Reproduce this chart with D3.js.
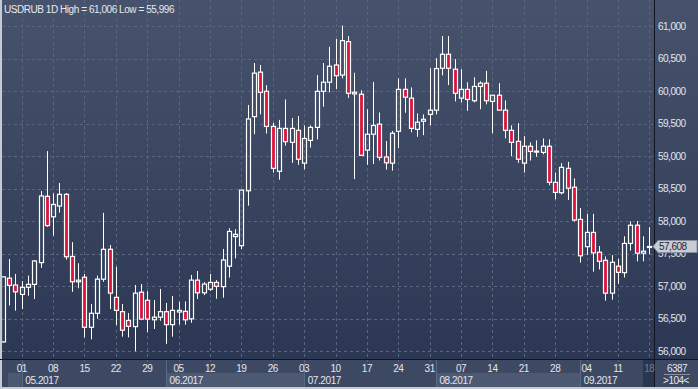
<!DOCTYPE html>
<html>
<head>
<meta charset="utf-8">
<title>USDRUB 1D</title>
<script src="https://d3js.org/d3.v7.min.js"></script>
<style>
  body { margin: 0; background: #c6cad1; }
  svg { display: block; }
  text { font-family: "Liberation Sans", Arial, sans-serif; }
</style>
</head>
<body>
<script>
// daily bars, 26 Apr 2017 .. 18 Sep 2017 (weekdays)
var open = [56140, 57120, 57015, 56870, 56980, 57025, 57360, 58380, 58065, 58230,
            58410, 57455, 57065, 57135, 56365, 56580, 57105, 57565, 56825, 56605,
            56470, 56375, 56905, 56780, 56480, 56520, 56605, 56405, 56600, 56610,
            56495, 57090, 56895, 56950, 57055, 56990, 57305, 57795, 57620, 58465,
            59605, 60290, 59995, 59455, 58765, 59425, 59210, 59395, 58890, 59240,
            59440, 59995, 60135, 60400, 60245, 60760, 59980, 59950, 59090, 59335,
            59490, 58985, 58890, 59380, 60025, 59890, 59410, 59535, 59640, 59705,
            60350, 60565, 60335, 59890, 60025, 59850, 60070, 60120, 59840, 59935,
            59705, 59395, 59225, 58890, 59150, 59060, 59055, 59150, 58595, 58435,
            58810, 58520, 58025, 57605, 57825, 57520, 57395, 56890, 57305, 57205,
            57655, 57935, 57505, 57600];
var high = [57150, 57415, 57185, 57075, 57160, 57400, 58460, 59075, 58425, 58585,
            58430, 57675, 57350, 57185, 56725, 57160, 58125, 57630, 57295, 56725,
            56585, 57015, 57030, 56920, 56785, 56955, 56740, 56845, 56755, 56765,
            57170, 57230, 57060, 57185, 57090, 57570, 57890, 57875, 58480, 59785,
            60430, 60400, 60090, 59510, 59555, 59870, 59585, 59615, 59470, 59470,
            60245, 60430, 60680, 60800, 61006, 60845, 60280, 60010, 59720, 60140,
            59670, 59230, 59385, 60195, 60195, 60055, 59655, 59640, 60350, 60505,
            60845, 60845, 60490, 60335, 60135, 60210, 60150, 60310, 59935, 60120,
            59855, 59470, 59505, 59305, 59210, 59240, 59270, 59255, 58745, 58890,
            58910, 58655, 58200, 58110, 58110, 57615, 57455, 57475, 57420, 57765,
            57995, 58000, 57765, 57905];
var low  = [56130, 56700, 56620, 56645, 56850, 56800, 57280, 57910, 57775, 58130,
            57405, 56910, 56965, 56210, 56180, 56495, 57065, 56645, 56400, 56220,
            56210, 55996, 56475, 56290, 56340, 56465, 56110, 56220, 56405, 56405,
            56435, 56800, 56860, 56925, 56805, 56820, 57130, 57425, 57565, 58235,
            59335, 59640, 59345, 58745, 58635, 59160, 58895, 58865, 58795, 59130,
            59255, 59760, 59980, 60030, 60195, 59895, 58645, 59000, 58865, 58875,
            58930, 58790, 58775, 59120, 59665, 59365, 59295, 59320, 59470, 59640,
            60240, 60090, 59840, 59825, 59695, 59825, 59720, 59795, 59350, 59705,
            59270, 58995, 58895, 58745, 58930, 58990, 59025, 58550, 58335, 58410,
            58325, 57990, 57360, 57475, 57220, 57255, 56775, 56790, 57035, 57130,
            57545, 57380, 57380, 57490];
var close = [57140, 57010, 56910, 56980, 57025, 57385, 58385, 57930, 58255, 58410,
             57450, 57065, 57090, 56365, 56580, 57105, 57565, 56890, 56625, 56320,
             56380, 56890, 56490, 56490, 56520, 56605, 56405, 56625, 56625, 56480,
             57090, 56895, 57030, 57055, 56995, 57400, 57840, 57760, 58475, 59570,
             60275, 59980, 59455, 58810, 59425, 59220, 59425, 58950, 59270, 59440,
             59995, 60135, 60380, 60235, 60775, 59965, 59955, 59010, 59335, 59470,
             58980, 58895, 59350, 60025, 59905, 59425, 59520, 59565, 59705, 60345,
             60565, 60350, 59965, 60025, 59870, 60070, 60120, 59850, 59935, 59705,
             59395, 59210, 58950, 59150, 59070, 59075, 59150, 58595, 58440, 58825,
             58505, 58015, 57465, 57825, 57510, 57380, 56890, 57365, 57210, 57655,
             57935, 57505, 57535, 57608];

var yTicks = [56000, 56500, 57000, 57500, 58000, 58500, 59000, 59500, 60000, 60500, 61000];
var barsInfo = ["6387", ">104<"];

var dates = d3.timeDay.range(new Date(2017, 3, 26), new Date(2017, 8, 19))
  .filter(function(d) { return d.getDay() !== 0 && d.getDay() !== 6; });

var data = dates.map(function(d, i) {
  return {i: i, date: d, o: open[i], h: high[i], l: low[i], c: close[i]};
});

var svgWidth = 698, svgHeight = 389,
    plot = {left: 2, right: 654, top: 0, bottom: 359},
    axisTextColor = "#e2e6ee";

var svg = d3.select("body").append("svg")
  .attr("width", svgWidth)
  .attr("height", svgHeight);

var defs = svg.append("defs");
var grad = defs.append("linearGradient")
  .attr("id", "bg").attr("x1", 0).attr("y1", 0).attr("x2", 0).attr("y2", 1);
grad.append("stop").attr("offset", "0%").attr("stop-color", "#47536d");
grad.append("stop").attr("offset", "100%").attr("stop-color", "#2c3853");

defs.append("clipPath").attr("id", "plotclip")
  .append("rect")
  .attr("x", plot.left).attr("y", plot.top)
  .attr("width", plot.right - plot.left).attr("height", plot.bottom - plot.top);

// backgrounds
svg.append("rect")
  .attr("x", plot.left).attr("y", 0)
  .attr("width", svgWidth - plot.left).attr("height", plot.bottom)
  .attr("fill", "url(#bg)");
svg.append("rect")
  .attr("x", plot.left).attr("y", plot.bottom)
  .attr("width", svgWidth - plot.left).attr("height", 28)
  .attr("fill", "#3d4962");

var x = d3.scalePoint()
  .domain(d3.range(data.length))
  .range([2.9, 649.3]);

var y = d3.scaleLinear()
  .domain([56000, 61000])
  .range([351, 26]);

function px(i) { return Math.round(x(i)) + 0.5; }

var mondays = data.filter(function(d) { return d.date.getDay() === 1; });
var monthStarts = data.filter(function(d, k) {
  return k === 0 || d.date.getMonth() !== data[k - 1].date.getMonth();
});

// grid
var grid = svg.append("g").attr("stroke", "#59667f").attr("stroke-dasharray", "3,3");
grid.selectAll(".hg").data(yTicks).enter().append("line")
  .attr("x1", plot.left).attr("x2", plot.right)
  .attr("y1", function(d) { return Math.round(y(d)) + 0.5; })
  .attr("y2", function(d) { return Math.round(y(d)) + 0.5; });
grid.selectAll(".vg").data(mondays).enter().append("line")
  .attr("x1", function(d) { return px(d.i); })
  .attr("x2", function(d) { return px(d.i); })
  .attr("y1", 0).attr("y2", plot.bottom + 3);

// candles: upper wick, lower wick, body
var candles = svg.append("g").attr("clip-path", "url(#plotclip)")
  .selectAll("g").data(data).enter().append("g");

candles.append("line")
  .attr("x1", function(d) { return px(d.i); })
  .attr("x2", function(d) { return px(d.i); })
  .attr("y1", function(d) { return y(d.h); })
  .attr("y2", function(d) { return y(Math.max(d.o, d.c)); })
  .attr("stroke", "#ffffff");

candles.append("line")
  .attr("x1", function(d) { return px(d.i); })
  .attr("x2", function(d) { return px(d.i); })
  .attr("y1", function(d) { return y(Math.min(d.o, d.c)); })
  .attr("y2", function(d) { return y(d.l); })
  .attr("stroke", "#ffffff");

candles.append("rect")
  .attr("x", function(d) { return px(d.i) - 2; })
  .attr("width", 4)
  .attr("y", function(d) { return y(Math.max(d.o, d.c)); })
  .attr("height", function(d) { return Math.max(1, Math.abs(y(d.o) - y(d.c))); })
  .attr("fill", function(d) { return d.c < d.o ? "#dc143c" : "none"; })
  .attr("stroke", "#ffffff")
  .attr("stroke-width", 1.2);

// frame lines
svg.append("line")
  .attr("x1", 0).attr("x2", svgWidth)
  .attr("y1", plot.bottom + 0.5).attr("y2", plot.bottom + 0.5)
  .attr("stroke", "#10151f");
svg.append("line")
  .attr("x1", plot.right + 0.5).attr("x2", plot.right + 0.5)
  .attr("y1", 0).attr("y2", 387)
  .attr("stroke", "#10151f");

// right axis
var yAxis = svg.append("g")
  .attr("transform", "translate(" + (plot.right + 3) + ",0)")
  .call(d3.axisRight(y).tickValues(yTicks).tickFormat(d3.format(",")).tickSize(0).tickPadding(1));
yAxis.select(".domain").remove();
yAxis.selectAll("text")
  .attr("fill", axisTextColor)
  .attr("font-size", 10)
  .attr("letter-spacing", -0.5)
  .attr("font-family", "Liberation Sans, Arial, sans-serif");

// month boxes
var xAxis = svg.append("g");
monthStarts.forEach(function(m, k) {
  var x0 = k === 0 ? x(m.i) + 5 : x(m.i);
  var x1 = k < monthStarts.length - 1 ? x(monthStarts[k + 1].i) : plot.right;
  xAxis.append("rect")
    .attr("x", x0).attr("y", 373)
    .attr("width", x1 - x0).attr("height", 14)
    .attr("fill", m.date.getMonth() % 2 === 1 ? "#4d5972" : "#3d4962");
  if (k > 0) {
    xAxis.append("line")
      .attr("x1", Math.round(x0) + 0.5).attr("x2", Math.round(x0) + 0.5)
      .attr("y1", plot.bottom + 1).attr("y2", 387)
      .attr("stroke", "#5d6983");
    xAxis.append("text")
      .attr("x", x0 + 3.5).attr("y", 383.5)
      .attr("fill", axisTextColor)
      .attr("font-size", 10).attr("letter-spacing", -0.4)
      .text(d3.timeFormat("%m.%Y")(m.date));
  }
});

// current bar box
var last = data[data.length - 1];
xAxis.append("rect")
  .attr("x", px(last.i) - 6.5).attr("y", plot.bottom + 1)
  .attr("width", plot.right - px(last.i) + 6.5).attr("height", 27)
  .attr("fill", "#2a3550");

xAxis.selectAll(".day").data(mondays).enter().append("text")
  .attr("x", function(d) { return x(d.i); })
  .attr("y", 372)
  .attr("text-anchor", "middle")
  .attr("font-size", 10).attr("letter-spacing", -0.5)
  .attr("fill", function(d) { return d === last ? "#6f7a90" : axisTextColor; })
  .text(function(d) { return d3.timeFormat("%d")(d.date); });

// bottom right info
svg.append("text")
  .attr("x", 677).attr("y", 371.5).attr("text-anchor", "middle")
  .attr("font-size", 10).attr("letter-spacing", -0.5)
  .attr("fill", axisTextColor).text(barsInfo[0]);
svg.append("line")
  .attr("x1", 664).attr("x2", 690).attr("y1", 374.5).attr("y2", 374.5)
  .attr("stroke", "#8891a3");
svg.append("text")
  .attr("x", 676).attr("y", 384).attr("text-anchor", "middle")
  .attr("font-size", 10).attr("letter-spacing", -0.5)
  .attr("fill", axisTextColor).text(barsInfo[1]);

// last price marker
var yl = y(last.c);
svg.append("path")
  .attr("d", "M" + 653 + "," + yl + "L658," + (yl - 6) + "L697," + (yl - 6) +
             "L697," + (yl + 6) + "L658," + (yl + 6) + "Z")
  .attr("fill", "#c9ccd2")
  .attr("stroke", "#8a909c");
svg.append("text")
  .attr("x", 659).attr("y", yl + 4)
  .attr("font-size", 10).attr("letter-spacing", -0.5)
  .attr("fill", "#1c2740")
  .text(d3.format(",")(last.c));

// title
svg.append("text")
  .attr("x", 4).attr("y", 13)
  .attr("font-size", 10).attr("letter-spacing", -0.45)
  .attr("fill", "#e6e9ef")
  .text("USDRUB 1D High = " + d3.format(",")(d3.max(high)) +
        " Low = " + d3.format(",")(d3.min(low)));
</script>
</body>
</html>
